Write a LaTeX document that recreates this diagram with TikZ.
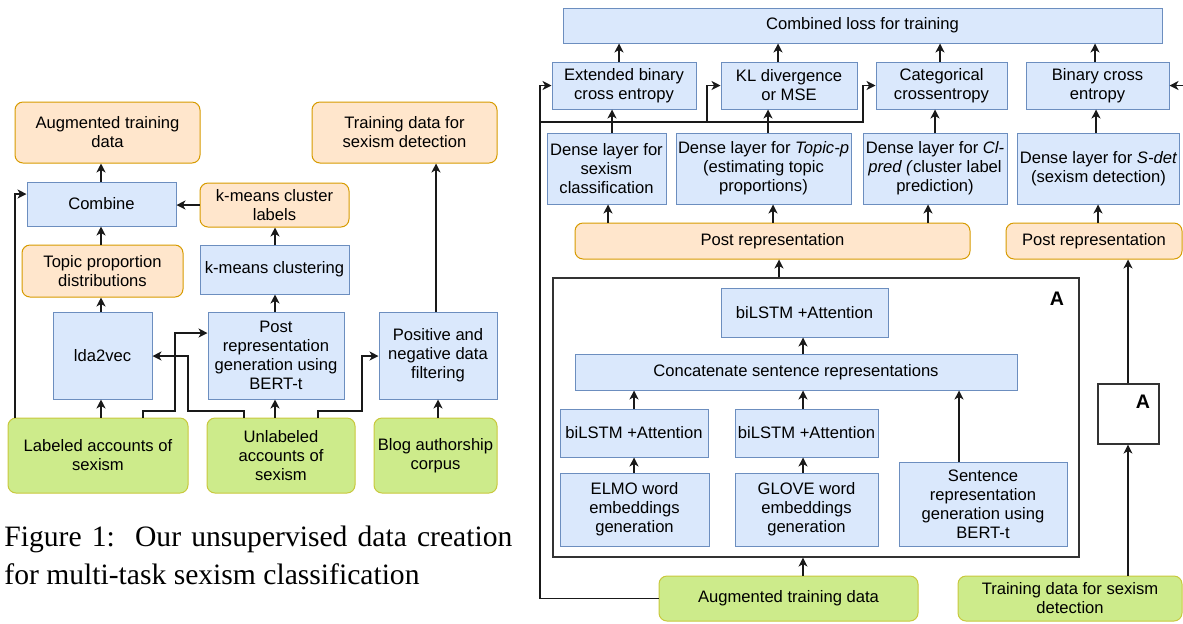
\documentclass[tikz,border=0pt]{standalone}
\usepackage{fontspec}
\setmainfont{Liberation Sans}
\newfontfamily\capfont{Liberation Serif}
\usetikzlibrary{arrows.meta}
\definecolor{bluefill}{HTML}{DAE8FC}
\definecolor{bluedraw}{HTML}{6C8EBF}
\definecolor{orfill}{HTML}{FFE6CC}
\definecolor{ordraw}{HTML}{D79B00}
\definecolor{grfill}{HTML}{CDEB8B}
\definecolor{grdraw}{HTML}{C8C83C}

\begin{document}
\begin{tikzpicture}[x=0.5pt,y=-0.5pt,
    font=\fontsize{8.3}{9.5}\selectfont,
    box/.style={draw,line width=0.5pt,align=center,inner sep=1pt},
    bluebox/.style={box,draw=bluedraw,fill=bluefill},
    orangebox/.style={box,draw=ordraw,fill=orfill,rounded corners=4pt},
    greenbox/.style={box,draw=grdraw,fill=grfill,rounded corners=4pt},
    outer/.style={draw=black!80,line width=0.6pt},
    bigA/.style={font=\fontsize{9.8}{11}\selectfont\bfseries},
    arr/.style={-{Stealth[length=4.5pt,width=4.5pt,inset=1.3pt]},line width=0.55pt,black!90}]
\useasboundingbox (0,0) rectangle (1183,623);

% Figure 1: data creation
\node[orangebox,minimum width=92.5pt,minimum height=30.5pt] (augl) at (107.5,132.5) {Augmented training\\data};
\node[orangebox,minimum width=92.5pt,minimum height=30.5pt] (trainl) at (404.5,132.5) {Training data for\\sexism detection};
\node[bluebox,minimum width=74.5pt,minimum height=22pt] (combine) at (101.5,204) {Combine};
\node[orangebox,minimum width=74.5pt,minimum height=22pt] (kmlab) at (274.5,205) {k-means cluster\\labels};
\node[orangebox,minimum width=80.5pt,minimum height=26pt] (topic) at (102.5,271) {Topic proportion\\distributions};
\node[bluebox,minimum width=74.5pt,minimum height=24.5pt] (kmclu) at (274.5,269.5) {k-means clustering};
\node[bluebox,minimum width=49.5pt,minimum height=43.5pt] (lda) at (102.5,355.5) {lda2vec};
\node[bluebox,minimum width=68pt,minimum height=43.5pt] (postl) at (276,355.5) {Post\\representation\\generation using\\BERT-t};
\node[bluebox,minimum width=59pt,minimum height=43.5pt] (filt) at (438,355.5) {Positive and\\negative data\\filtering};
\node[greenbox,minimum width=90pt,minimum height=37.5pt] (lab) at (98,455.5) {Labeled accounts of\\sexism};
\node[greenbox,minimum width=74pt,minimum height=37.5pt] (unlab) at (281,455.5) {Unlabeled\\accounts of\\sexism};
\node[greenbox,minimum width=61.5pt,minimum height=37.5pt] (blog) at (435.5,455.5) {Blog authorship\\corpus};

\draw[arr] (101,0 |- combine.north) -- (101,0 |- augl.south);
\draw[arr] (101,0 |- topic.north) -- (101,0 |- combine.south);
\draw[arr] (101,0 |- lda.north) -- (101,0 |- topic.south);
\draw[arr] (101,0 |- lab.north) -- (101,0 |- lda.south);
\draw[arr] (kmlab.west) -- (combine.east |- kmlab.west);
\draw[arr] (275,0 |- kmclu.north) -- (275,0 |- kmlab.south);
\draw[arr] (275,0 |- postl.north) -- (275,0 |- kmclu.south);
\draw[arr] (275,0 |- unlab.north) -- (275,0 |- postl.south);
\draw[arr] (438,0 |- blog.north) -- (438,0 |- filt.south);
\draw[arr] (436,0 |- filt.north) -- (436,0 |- trainl.south);
\draw[arr] (15,0 |- lab.north) |- (combine.west |- 0,194);
\draw[arr] (143,0 |- lab.north) -- (143,411) -| (175,333) -- (postl.west |- 0,333);
\draw[arr] (244,0 |- unlab.north) -- (244,411) -| (188,356) -- (lda.east |- 0,356);
\draw[arr] (318,0 |- unlab.north) -- (318,411) -| (362,356) -- (filt.west |- 0,356);

\node[font=\capfont\fontsize{14.8}{19}\selectfont,text width=254pt,align=justify,inner sep=0pt,anchor=north west] (cap) at (4,526)
  {Figure 1:\ \ Our unsupervised data creation for multi-task sexism classification};

% Figure 2: multi-task model
\node[bluebox,minimum width=299.5pt,minimum height=17.5pt] (comb) at (862.5,25.5) {Combined loss for training};
\node[bluebox,minimum width=72pt,minimum height=23.5pt] (ebce) at (624,85.5) {Extended binary\\cross entropy};
\node[bluebox,minimum width=68pt,minimum height=23.5pt] (kl) at (789,85.5) {KL divergence\\or MSE};
\node[bluebox,minimum width=65.5pt,minimum height=23.5pt] (cce) at (941.5,85.5) {Categorical\\crossentropy};
\node[bluebox,minimum width=71.5pt,minimum height=23.5pt] (bce) at (1097.5,85.5) {Binary cross\\entropy};
\node[bluebox,minimum width=59.5pt,minimum height=35.5pt] (dsex) at (606.5,168.5) {Dense layer for\\sexism\\classification};
\node[bluebox,minimum width=87.5pt,minimum height=35.5pt] (dtop) at (763.5,168.5) {Dense layer for \textit{Topic-p}\\(estimating topic\\proportions)};
\node[bluebox,minimum width=72pt,minimum height=35.5pt] (dcl) at (935,168.5) {Dense layer for \textit{Cl-}\\\textit{pred (}cluster label\\prediction)};
\node[bluebox,minimum width=80.5pt,minimum height=35.5pt] (dsd) at (1098.5,168.5) {Dense layer for \textit{S-det}\\(sexism detection)};
\node[orangebox,minimum width=197.5pt,minimum height=18pt] (postr) at (772.5,241) {Post representation};
\node[orangebox,minimum width=88pt,minimum height=18pt] (postr2) at (1094,241) {Post representation};

\node[outer,minimum width=263pt,minimum height=139.5pt] (boxA) at (816,417.5) {};
\node[bigA] (alab) at (1057,299) {A};
\node[bluebox,minimum width=83.5pt,minimum height=24.5pt] (bil3) at (804.5,312.5) {biLSTM +Attention};
\node[bluebox,minimum width=221pt,minimum height=18pt] (concat) at (796,372) {Concatenate sentence representations};
\node[bluebox,minimum width=74pt,minimum height=24pt] (bil1) at (634,433) {biLSTM +Attention};
\node[bluebox,minimum width=71.5pt,minimum height=24pt] (bil2) at (806.5,433) {biLSTM +Attention};
\node[bluebox,minimum width=74.5pt,minimum height=36.5pt] (elmo) at (634.5,509.5) {ELMO word\\embeddings\\generation};
\node[bluebox,minimum width=71.5pt,minimum height=36.5pt] (glove) at (806.5,509.5) {GLOVE word\\embeddings\\generation};
\node[bluebox,minimum width=84pt,minimum height=42pt] (sent) at (983,504) {Sentence\\representation\\generation using\\BERT-t};

\node[outer,minimum width=30.5pt,minimum height=30pt] (smallA) at (1128.5,414) {};
\node[bigA] (alab2) at (1143,402) {A};

\node[greenbox,minimum width=129.5pt,minimum height=22.5pt] (augr) at (788.5,598.5) {Augmented training data};
\node[greenbox,minimum width=112pt,minimum height=22.5pt] (trr) at (1070,598.5) {Training data for sexism\\detection};

\draw[arr] (619,0 |- ebce.north) -- (619,0 |- comb.south);
\draw[arr] (778,0 |- kl.north) -- (778,0 |- comb.south);
\draw[arr] (940,0 |- cce.north) -- (940,0 |- comb.south);
\draw[arr] (1095,0 |- bce.north) -- (1095,0 |- comb.south);
\draw[arr] (612,0 |- dsex.north) -- (612,0 |- ebce.south);
\draw[arr] (768,0 |- dtop.north) -- (768,0 |- kl.south);
\draw[arr] (935,0 |- dcl.north) -- (935,0 |- cce.south);
\draw[arr] (1096,0 |- dsd.north) -- (1096,0 |- bce.south);
\draw[arr] (608,0 |- postr.north) -- (608,0 |- dsex.south);
\draw[arr] (773,0 |- postr.north) -- (773,0 |- dtop.south);
\draw[arr] (928,0 |- postr.north) -- (928,0 |- dcl.south);
\draw[arr] (1098,0 |- postr2.north) -- (1098,0 |- dsd.south);
\draw[arr] (779,0 |- boxA.north) -- (779,0 |- postr.south);
\draw[arr] (803,0 |- concat.north) -- (803,0 |- bil3.south);
\draw[arr] (634,0 |- bil1.north) -- (634,0 |- concat.south);
\draw[arr] (803,0 |- bil2.north) -- (803,0 |- concat.south);
\draw[arr] (634,0 |- elmo.north) -- (634,0 |- bil1.south);
\draw[arr] (803,0 |- glove.north) -- (803,0 |- bil2.south);
\draw[arr] (959,0 |- sent.north) -- (959,0 |- concat.south);
\draw[arr] (803,0 |- augr.north) -- (803,0 |- boxA.south);
\draw[arr] (1128,0 |- trr.north) -- (1128,0 |- smallA.south);
\draw[arr] (1128,0 |- smallA.north) -- (1128,0 |- postr2.south);

\coordinate (lbl) at (540,122);
\coordinate (edge) at (1183,85.5);
\draw[arr] (augr.west) -| (540,0 |- ebce.west) -- (ebce.west);
\draw[arr] (lbl) -| (707,0 |- kl.west) -- (kl.west);
\draw[arr] (707,122) -| (863,0 |- cce.west) -- (cce.west);
\draw[arr] (edge) -- (bce.east);
\end{tikzpicture}
\end{document}
